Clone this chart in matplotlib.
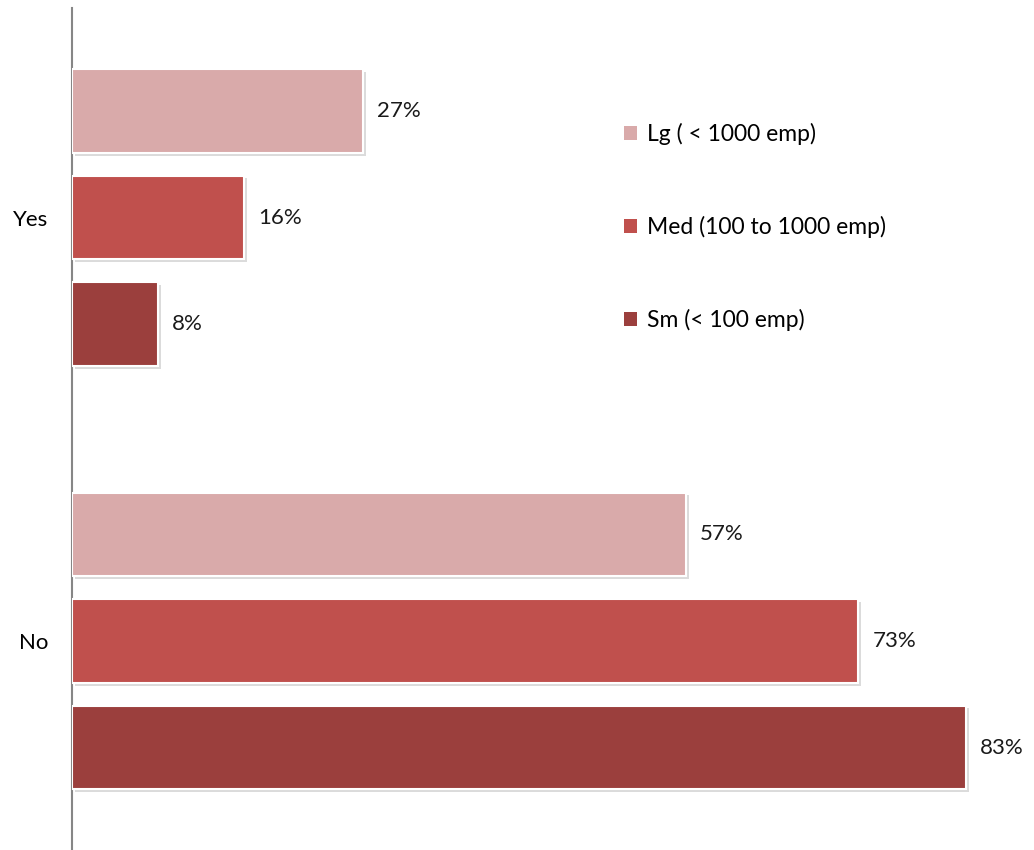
import numpy as np
import matplotlib.pyplot as plt
import matplotlib.patheffects as pe

categories = ['Yes', 'No']
series_names = ['Lg ( < 1000 emp)', 'Med (100 to 1000 emp)', 'Sm (< 100 emp)']
values = {
    'Lg ( < 1000 emp)': [27, 57],
    'Med (100 to 1000 emp)': [16, 73],
    'Sm (< 100 emp)': [8, 83],
}
colors = ['#D9AAAA', '#C0504D', '#9B3F3D']

plt.rcParams['font.family'] = ['Lato', 'DejaVu Sans']

fig = plt.figure(figsize=(10.34, 8.5), dpi=100)
W, H = 1034, 850
ax = fig.add_axes([72 / W, 0, (W - 72) / W, 842 / H])

px_per_pct = (966 - 72) / 83.0
ax.set_xlim(0, (W - 72) / px_per_pct)
ax.set_ylim(-0.4935, 1.4947)

group_y = np.array([1.0, 0.0])
pitch = 0.2515
height = 0.198
offsets = [pitch, 0, -pitch]

shadow = [pe.SimplePatchShadow(offset=(2, -2), shadow_rgbFace='#999999', alpha=0.35), pe.Normal()]

for i, name in enumerate(series_names):
    bars = ax.barh(group_y + offsets[i], values[name], height=height, color=colors[i],
                   edgecolor='white', linewidth=1.5, label=name, zorder=3)
    for b in bars:
        b.set_path_effects(shadow)
    for y, v in zip(group_y + offsets[i], values[name]):
        ax.text(v + 14 / px_per_pct, y, f'{v}%', va='center', ha='left', fontsize=16, color='#1a1a1a')

ax.set_yticks(group_y)
ax.set_yticklabels(categories, fontsize=16)
ax.tick_params(axis='y', length=0, pad=17)
ax.set_xticks([])
for s in ['top', 'right', 'bottom']:
    ax.spines[s].set_visible(False)
ax.spines['left'].set_color('#868686')
ax.spines['left'].set_linewidth(1.5)

leg = ax.legend(loc='upper left', bbox_to_anchor=(624 / W, 1 - 123 / H), bbox_transform=fig.transFigure,
                frameon=False, fontsize=16.5, handlelength=0.55, handleheight=0.55, handletextpad=0.45,
                labelspacing=3.1, borderaxespad=0, borderpad=0)
for h in leg.legend_handles:
    h.set_path_effects([])
    h.set_linewidth(0)

fig.savefig('out.png', dpi=100)
